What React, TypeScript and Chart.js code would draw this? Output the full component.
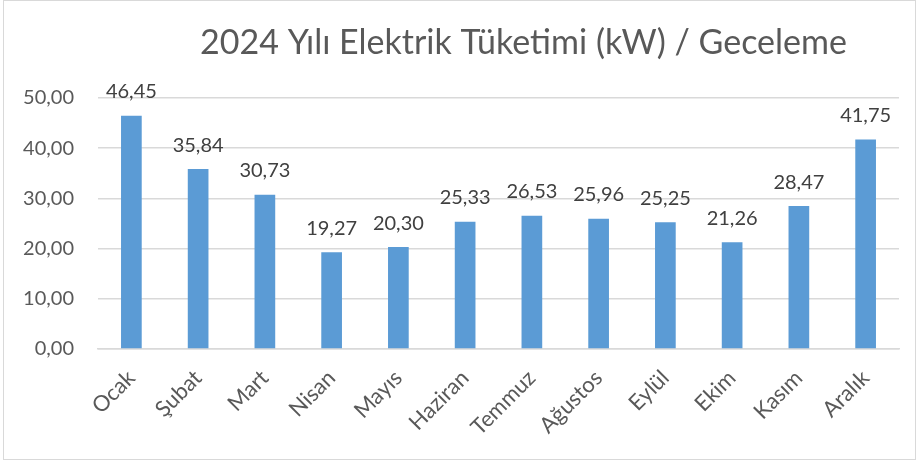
import React, { useEffect, useRef } from "react";
import { Chart, registerables } from "chart.js";

Chart.register(...registerables);

const titleText = "2024 Yılı Elektrik Tüketimi (kW) / Geceleme";
const months = ["Ocak", "Şubat", "Mart", "Nisan", "Mayıs", "Haziran", "Temmuz", "Ağustos", "Eylül", "Ekim", "Kasım", "Aralık"];
const values = [46.45, 35.84, 30.73, 19.27, 20.3, 25.33, 26.53, 25.96, 25.25, 21.26, 28.47, 41.75];
const yMin = 0;
const yMax = 50;
const yStep = 10;

const FONT = "Lato, 'Open Sans', sans-serif";
const fmt = (v: number) => v.toFixed(2).replace(".", ",");

const overlayPlugin = {
  id: "overlay",
  afterDatasetsDraw(chart: any) {
    const ctx = chart.ctx;
    const meta = chart.getDatasetMeta(0);
    ctx.save();
    ctx.fillStyle = "#404040";
    ctx.font = `20px ${FONT}`;
    ctx.textAlign = "center";
    ctx.textBaseline = "middle";
    meta.data.forEach((bar: any, i: number) => {
      ctx.fillText(fmt(values[i]), bar.x, bar.y - 24);
    });
    // title
    ctx.fillStyle = "#595959";
    ctx.font = `34px ${FONT}`;
    ctx.textBaseline = "middle";
    const ca = chart.chartArea;
    ctx.fillText(titleText, (ca.left + ca.right) / 2 + 25, 43);
    ctx.restore();
  },
};

export default function App() {
  const ref = useRef<HTMLCanvasElement | null>(null);
  useEffect(() => {
    document.body.style.margin = "0";
    const chart = new Chart(ref.current as HTMLCanvasElement, {
      type: "bar",
      data: {
        labels: months,
        datasets: [
          {
            data: values,
            backgroundColor: "#5B9BD5",
            borderColor: "#5B9BD5",
            borderWidth: 0,
            barPercentage: 0.62,
            categoryPercentage: 0.5,
          },
        ],
      },
      options: {
        responsive: false,
        animation: false,
        layout: { padding: { top: 98, right: 21, left: 0, bottom: 0 } },
        plugins: { legend: { display: false }, tooltip: { enabled: false }, title: { display: false } },
        scales: {
          x: {
            grid: { display: false, drawTicks: false },
            border: { color: "#D9D9D9", width: 1.5 },
            ticks: {
              color: "#595959",
              font: { family: FONT, size: 22 },
              maxRotation: 45,
              minRotation: 45,
              padding: 16,
              autoSkip: false,
            },
            afterFit: (s: any) => {
              s.height = 115;
            },
          },
          y: {
            min: yMin,
            max: yMax,
            grid: { color: "#D9D9D9", lineWidth: 1.5, drawTicks: false },
            border: { display: false },
            ticks: {
              stepSize: yStep,
              color: "#595959",
              font: { family: FONT, size: 20 },
              padding: 24,
              callback: (v: any) => fmt(Number(v)),
            },
            afterFit: (s: any) => {
              s.width = 98;
            },
          },
        },
      },
      plugins: [overlayPlugin],
    });
    return () => chart.destroy();
  }, []);
  return (
    <div style={{ position: "relative", width: 920, height: 464, background: "#fff" }}>
      <canvas ref={ref} width={920} height={464} style={{ display: "block" }} />
      <div
        style={{
          position: "absolute",
          left: 3,
          top: 0,
          width: 913,
          height: 460,
          border: "1.5px solid #D9D9D9",
          boxSizing: "border-box",
          pointerEvents: "none",
        }}
      />
    </div>
  );
}
